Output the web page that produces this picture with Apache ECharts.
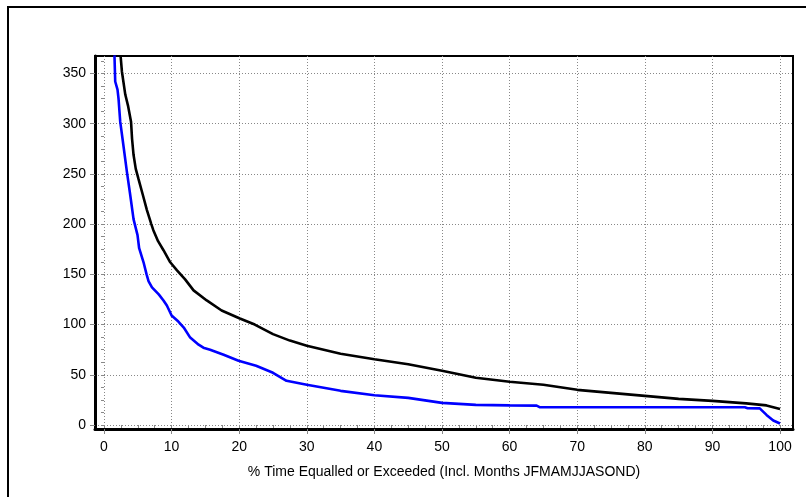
<!DOCTYPE html>
<html>
<head>
<meta charset="utf-8">
<script src="https://cdn.jsdelivr.net/npm/echarts@6/dist/echarts.min.js"></script>
<style>html,body{margin:0;padding:0;background:#fff;}#c{width:806px;height:497px;}</style>
</head>
<body>
<div id="c"></div>
<script>
// Tick labels
var xTicks = [0, 10, 20, 30, 40, 50, 60, 70, 80, 90, 100];
var yTicks = [0, 50, 100, 150, 200, 250, 300, 350];
var xMinorTicks = [];
for (var i = 0; i <= 40; i++) xMinorTicks.push(i * 2.5);
var yMinorTicks = [];
for (var j = 0; j <= 29; j++) yMinorTicks.push(j * 12.5);

var xTitle = '% Time Equalled or Exceeded (Incl. Months JFMAMJJASOND)';

// Black curve: [% time, value]
var blackCurve = [
  [2.45,368],[2.65,352],[3.15,329],[3.55,318],[4.0,302],[4.15,285],[4.37,269],[4.7,255],
  [5.1,245],[5.75,229],[6.35,214],[7.0,200],[7.3,194],[8.0,183],[8.8,174],[9.8,162],
  [10.8,154],[12.0,145],[13.25,134],[15.2,124],[17.4,114],[20.1,106],[22.3,100],[25,90.5],
  [27.5,84],[30,79],[35,71],[40,65.5],[45,60.5],[50,54],[55,47],[60,43],[65,40],[70,35],
  [75,32],[80,29],[85,26],[90,24],[95,21.5],[98,19.5],[100,16]
];
// Blue curve: [% time, value]
var blueCurve = [
  [1.55,368],[1.66,342],[2.0,334],[2.15,325],[2.4,302],[2.8,282],[3.39,252],[3.88,229],
  [4.37,205],[4.96,189],[5.2,176],[5.85,162],[6.3,150],[6.6,143],[7.1,137],[8.1,130],
  [8.8,124],[9.3,119],[10.0,109],[11.0,103],[11.8,97],[12.75,87],[14.0,80],[14.7,77],
  [15.7,75],[17.7,70],[19.9,64],[22.5,59],[25,52],[27,44],[30,40],[35,34],[40,29.6],
  [45,27],[50,22],[55,20],[60,19.5],[64,19.3],[64.5,17.6],[80,17.6],[94.8,17.6],
  [95.2,16.7],[97,16.5],[98,10],[99,4.5],[100,1.5]
];

var FONT = 'Liberation Sans, Arial, sans-serif';
var chart = echarts.init(document.getElementById('c'), null, {renderer: 'canvas'});
var XMIN = -1.33, XMAX = 101.92, YMIN = -4, YMAX = 367.4;

chart.setOption({
  animation: false,
  backgroundColor: '#fff',
  graphic: [{
    type: 'rect', silent: true,
    shape: {x: 8, y: 7, width: 820, height: 520},
    style: {fill: 'none', stroke: '#000', lineWidth: 2}
  }],
  grid: {left: 95, right: 13, top: 56, bottom: 68, show: true, borderColor: '#000', borderWidth: 2, backgroundColor: 'transparent'},
  xAxis: [{
    type: 'value', min: XMIN, max: XMAX, position: 'bottom',
    name: xTitle, nameLocation: 'middle', nameGap: 36,
    nameTextStyle: {color: '#000', fontFamily: FONT, fontSize: 14},
    axisLine: {show: true, onZero: false, lineStyle: {color: '#000', width: 3}},
    axisTick: {show: true, inside: false, length: 5, customValues: xTicks, lineStyle: {color: '#888', width: 1}},
    axisLabel: {show: true, customValues: xTicks, margin: 11, color: '#000', fontFamily: FONT, fontSize: 14},
    splitLine: {show: true, lineStyle: {color: '#888', type: [1, 2], width: 1}},
    minorTick: {show: false}
  }, {
    type: 'value', min: XMIN, max: XMAX, position: 'bottom', offset: 0,
    axisLine: {show: false},
    axisTick: {show: true, inside: false, length: 3, customValues: xMinorTicks, lineStyle: {color: '#888', width: 1}},
    axisLabel: {show: false},
    splitLine: {show: false}
  }],
  yAxis: [{
    type: 'value', min: YMIN, max: YMAX, position: 'left',
    axisLine: {show: true, onZero: false, lineStyle: {color: '#000', width: 3}},
    axisTick: {show: true, inside: false, length: 5, customValues: yTicks, lineStyle: {color: '#888', width: 1}},
    axisLabel: {show: true, customValues: yTicks, margin: 9, color: '#000', fontFamily: FONT, fontSize: 14},
    splitLine: {show: true, lineStyle: {color: '#888', type: [1, 2], width: 1}}
  }, {
    type: 'value', min: YMIN, max: YMAX, position: 'left', offset: 0,
    axisLine: {show: false},
    axisTick: {show: true, inside: false, length: 3, customValues: yMinorTicks, lineStyle: {color: '#888', width: 1}},
    axisLabel: {show: false},
    splitLine: {show: false}
  }],
  series: [{
    type: 'line', data: blackCurve, xAxisIndex: 0, yAxisIndex: 0,
    showSymbol: false, symbol: 'none', clip: true,
    lineStyle: {color: '#000', width: 2.6}
  }, {
    type: 'line', data: blueCurve, xAxisIndex: 0, yAxisIndex: 0,
    showSymbol: false, symbol: 'none', clip: true,
    lineStyle: {color: '#0000ff', width: 2.6}
  }]
});
</script>
</body>
</html>
